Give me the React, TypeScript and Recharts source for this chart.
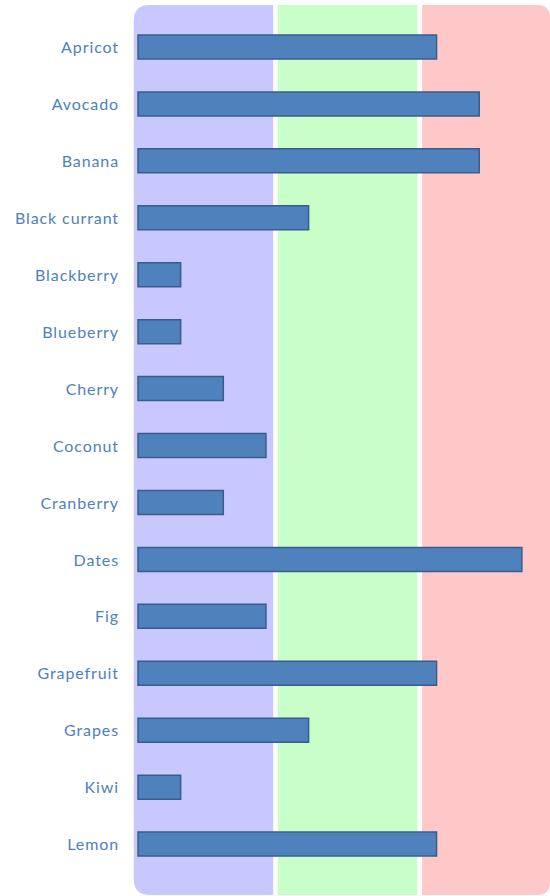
import { BarChart, Bar, XAxis, YAxis, ReferenceArea } from 'recharts'

const fruits = [
  'Apricot', 'Avocado', 'Banana', 'Black currant', 'Blackberry',
  'Blueberry', 'Cherry', 'Coconut', 'Cranberry', 'Dates',
  'Fig', 'Grapefruit', 'Grapes', 'Kiwi', 'Lemon',
]
const amounts = [7, 8, 8, 4, 1, 1, 2, 3, 2, 9, 3, 7, 4, 1, 7]

// background zones, in axis units
const zoneStarts = [-0.1, 3.28, 6.66]
const zoneEnds = [3.17, 6.55, 9.66]
const zoneColors = ['#C8C8FF', '#C8FFC8', '#FFC8C8']

const data = fruits.map((name, i) => ({ name, value: amounts[i] }))

function roundedRect(x: number, y: number, w: number, h: number, rl: number, rr: number) {
  return `M${x + rl},${y}
    L${x + w - rr},${y} Q${x + w},${y} ${x + w},${y + rr}
    L${x + w},${y + h - rr} Q${x + w},${y + h} ${x + w - rr},${y + h}
    L${x + rl},${y + h} Q${x},${y + h} ${x},${y + h - rl}
    L${x},${y + rl} Q${x},${y} ${x + rl},${y} Z`
}

const zoneShape = (idx: number) => (props: any) => {
  const { x, y, width, height } = props
  const rl = idx === 0 ? 16 : 0
  const rr = idx === zoneStarts.length - 1 ? 13 : 0
  return (
    <path
      d={roundedRect(x, y - 14, width, height + 36, rl, rr)}
      fill={zoneColors[idx]}
      stroke="none"
    />
  )
}

export default function App() {
  return (
    <div style={{ width: 550, height: 896, overflow: 'hidden' }}>
      <style>{`body{margin:0}`}</style>
      <BarChart
        width={550}
        height={896}
        data={data}
        layout="vertical"
        margin={{ top: 19, right: 0, bottom: 23, left: 0 }}
      >
        {zoneStarts.map((from, i) => (
          <ReferenceArea
            key={i}
            x1={from}
            x2={zoneEnds[i]}
            ifOverflow="visible"
            shape={zoneShape(i)}
          />
        ))}
        <XAxis type="number" hide domain={[0, 9.66]} />
        <YAxis
          type="category"
          dataKey="name"
          width={138}
          axisLine={false}
          tickLine={false}
          tickSize={0}
          tickMargin={19}
          interval={0}
          tick={{ fill: '#4F81BD', fontSize: 16, fontFamily: 'Lato', letterSpacing: 0.9 }}
        />
        <Bar
          dataKey="value"
          fill="#4F81BD"
          stroke="#385D8A"
          strokeWidth={1.5}
          barSize={24}
          isAnimationActive={false}
        />
      </BarChart>
    </div>
  )
}
